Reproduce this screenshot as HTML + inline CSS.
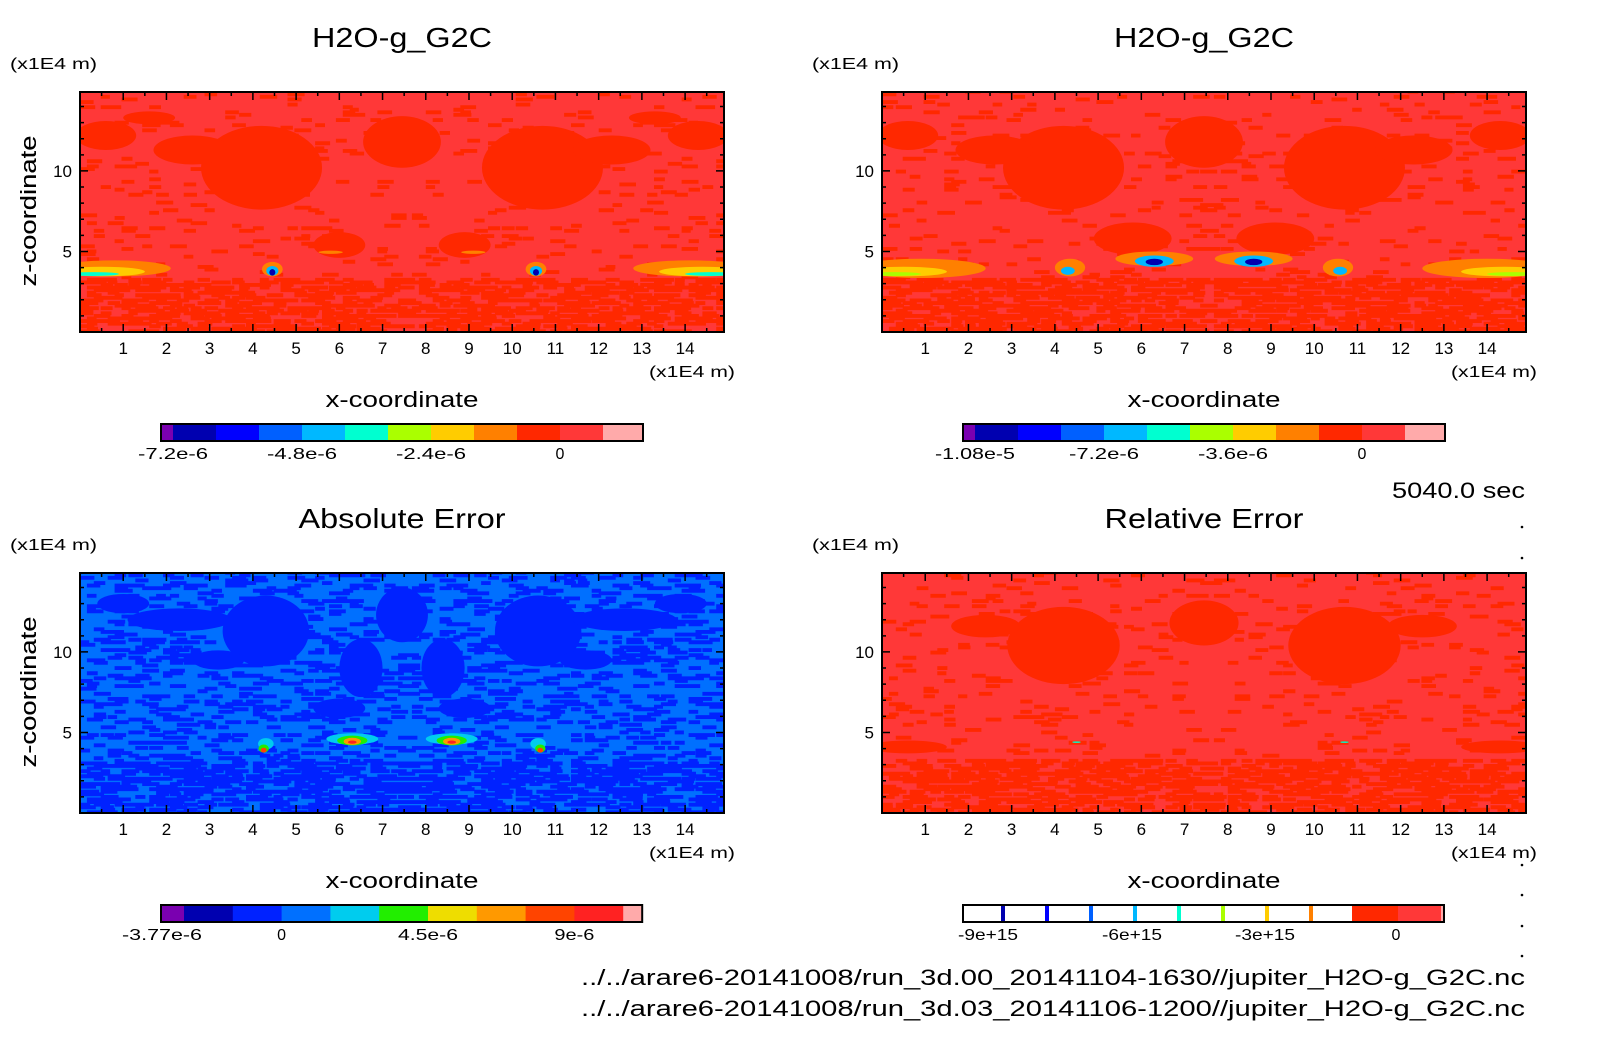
<!DOCTYPE html>
<html><head><meta charset="utf-8">
<style>
html,body{margin:0;padding:0;background:#fff;}
svg{display:block;font-family:"Liberation Sans",sans-serif;}
</style></head>
<body>
<svg id="fig" width="1604" height="1054" viewBox="0 0 1604 1054" xmlns="http://www.w3.org/2000/svg">
<rect width="1604" height="1054" fill="#fff"/>
<text x="1525" y="498" text-anchor="end" font-size="22" textLength="133" lengthAdjust="spacingAndGlyphs">5040.0 sec</text>
<text x="1525" y="985" text-anchor="end" font-size="22" textLength="944" lengthAdjust="spacingAndGlyphs">../../arare6-20141008/run_3d.00_20141104-1630//jupiter_H2O-g_G2C.nc</text>
<text x="1525" y="1016" text-anchor="end" font-size="22" textLength="944" lengthAdjust="spacingAndGlyphs">../../arare6-20141008/run_3d.03_20141106-1200//jupiter_H2O-g_G2C.nc</text>
<g fill="#000">
<circle cx="1522" cy="527" r="1.3"/><circle cx="1522" cy="558" r="1.3"/><circle cx="1522" cy="865" r="1.3"/><circle cx="1522" cy="895" r="1.3"/><circle cx="1522" cy="926" r="1.3"/><circle cx="1522" cy="956" r="1.3"/>
</g>
</svg>
<script>
// ---- data ----
const xTicks = [1,2,3,4,5,6,7,8,9,10,11,12,13,14];
const zTicks = [5,10];
const domainMax = 14.9;
const palTop = ["#7a00b0","#0000b0","#0000ff","#0060ff","#00b8ff","#00ffd0","#aaff00","#ffcc00","#ff8000","#ff2800","#ff3838","#ffaaaa"];
const palAbs = ["#7a00b0","#0000b0","#0022ff","#0070ff","#00ccee","#22ee00","#eedd00","#ff9900","#ff4400","#ff2222","#ffaaaa"];
const titles = ["H2O-g_G2C","H2O-g_G2C","Absolute Error","Relative Error"];
const titleW = [180,180,207,199];
const cbLabelsTL = ["-7.2e-6","-4.8e-6","-2.4e-6","0"];
const cbLabelsTR = ["-1.08e-5","-7.2e-6","-3.6e-6","0"];
const cbLabelsBL = ["-3.77e-6","0","4.5e-6","9e-6"];
const cbLabelsBR = ["-9e+15","-6e+15","-3e+15","0"];
const baseLevel = [10,10,3,10];
const darkLevel = [9,9,2,9];
// blobs: x, z, rx, rz, level
const blobsTL = [[4.2,10.2,1.4,2.6,9],[10.7,10.2,1.4,2.6,9],[2.6,11.3,0.9,0.9,9],[12.3,11.3,0.9,0.9,9],[7.45,11.8,0.9,1.6,9],[0.6,12.2,0.7,0.9,9],[14.3,12.2,0.7,0.9,9],[6.0,5.4,0.6,0.8,9],[8.9,5.4,0.6,0.8,9],[1.6,13.3,0.6,0.4,9],[13.3,13.3,0.6,0.4,9],
 [0.8,3.95,1.3,0.5,8],[14.1,3.95,1.3,0.5,8],[0.5,3.75,1.0,0.3,7],[14.4,3.75,1.0,0.3,7],[0.3,3.6,0.6,0.12,5],[14.6,3.6,0.6,0.12,5],
 [4.45,3.9,0.24,0.45,8],[10.55,3.9,0.24,0.45,8],[4.45,3.8,0.14,0.3,4],[10.55,3.8,0.14,0.3,4],[4.45,3.7,0.07,0.2,1],[10.55,3.7,0.07,0.2,1],
 [5.8,4.95,0.28,0.1,8],[9.1,4.95,0.28,0.1,8]];
const blobsTR = [[4.2,10.2,1.4,2.6,9],[10.7,10.2,1.4,2.6,9],[2.6,11.3,0.9,0.9,9],[12.3,11.3,0.9,0.9,9],[7.45,11.8,0.9,1.6,9],[0.6,12.2,0.7,0.9,9],[14.3,12.2,0.7,0.9,9],[5.8,5.8,0.9,1.0,9],[9.1,5.8,0.9,1.0,9],
 [0.9,3.95,1.5,0.6,8],[14.0,3.95,1.5,0.6,8],[0.5,3.75,1.0,0.3,7],[14.4,3.75,1.0,0.3,7],[0.3,3.6,0.6,0.12,6],[14.6,3.6,0.6,0.12,6],
 [4.35,4.0,0.35,0.55,8],[10.55,4.0,0.35,0.55,8],[4.3,3.8,0.16,0.25,4],[10.6,3.8,0.16,0.25,4],
 [6.3,4.55,0.9,0.45,8],[8.6,4.55,0.9,0.45,8],[6.3,4.4,0.45,0.35,4],[8.6,4.4,0.45,0.35,4],[6.3,4.35,0.2,0.2,1],[8.6,4.35,0.2,0.2,1]];
const blobsBL = [[4.3,11.3,1.0,2.2,2],[10.6,11.3,1.0,2.2,2],[7.45,12.3,0.6,1.7,2],[6.5,9.0,0.5,1.8,2],[8.4,9.0,0.5,1.8,2],[2.3,12.0,1.2,0.7,2],[12.6,12.0,1.2,0.7,2],[1.0,13.0,0.6,0.6,2],[13.9,13.0,0.6,0.6,2],[6.0,6.5,0.6,0.6,2],[8.9,6.5,0.6,0.6,2],[3.2,9.5,0.6,0.6,2],[11.7,9.5,0.6,0.6,2],
 [6.3,4.6,0.6,0.35,4],[8.6,4.6,0.6,0.35,4],[6.3,4.5,0.35,0.3,5],[8.6,4.5,0.35,0.3,5],[6.3,4.45,0.2,0.22,7],[8.6,4.45,0.2,0.22,7],[6.3,4.4,0.1,0.1,9],[8.6,4.4,0.1,0.1,9],
 [4.3,4.3,0.18,0.35,4],[10.6,4.3,0.18,0.35,4],[4.25,4.0,0.12,0.25,5],[10.65,4.0,0.12,0.25,5],[4.25,3.9,0.07,0.15,8],[10.65,3.9,0.07,0.15,8]];
const blobsBR = [[4.2,10.4,1.3,2.4,9],[10.7,10.4,1.3,2.4,9],[2.4,11.6,0.8,0.7,9],[12.5,11.6,0.8,0.7,9],[7.45,11.8,0.8,1.4,9],[0.6,4.1,0.9,0.4,9],[14.3,4.1,0.9,0.4,9],[4.5,4.4,0.1,0.05,5],[10.7,4.4,0.1,0.05,5]];
const allBlobs = [blobsTL,blobsTR,blobsBL,blobsBR];
const pals = [palTop,palTop,palAbs,palTop];

// ---- layout ----
const NS="http://www.w3.org/2000/svg";
const svg=document.getElementById('fig');
function el(t,a,p){const e=document.createElementNS(NS,t);for(const k in a)e.setAttribute(k,a[k]);(p||svg).appendChild(e);return e;}
const offX=[0,802,0,802], offY=[0,0,481,481];
function hash(i,j,s){let h=Math.sin(i*127.1+j*311.7+s*74.7)*43758.5453;return h-Math.floor(h);}

for(let p=0;p<4;p++){
  const ox=offX[p], oy=offY[p];
  const x0=80+ox,x1=724+ox,y0=92+oy,y1=332+oy;
  const xs=v=>x0+v/domainMax*(x1-x0), zs=v=>y1-v/domainMax*(y1-y0);
  const g=el('g',{});
  
  
  const cid='clip'+p;
  const cp=el('clipPath',{id:cid},g); el('rect',{x:x0,y:y0,width:x1-x0,height:y1-y0},cp);
  const field=el('g',{'clip-path':'url(#'+cid+')'},g);
  
  
  const pal=pals[p];
  el('rect',{x:x0,y:y0,width:x1-x0,height:y1-y0,fill:pal[baseLevel[p]]},field);
  // texture
  let d='';const cw=0.16;
  const nI=Math.ceil(domainMax/cw);
  for(let i=0;i<nI;i++)for(let j=0;j*cw<domainMax;j++){
    const z=j*cw;const dens=z<3.3?0.45:(p==2?0.18:0.05);
    const hh=hash(Math.min(i,nI-1-i),j,p);
    if(hh<dens){const w=(xs(cw)-x0)*(1.3+hash(i,j,p+9)*1.2), h=(zs(0)-zs(cw))*1.5;
      d+='M'+xs(i*cw).toFixed(1)+' '+zs(z+cw).toFixed(1)+'h'+w.toFixed(1)+'v'+h.toFixed(1)+'h'+(-w).toFixed(1)+'z';}
  }
  const tex=el('path',{d:d,fill:pal[darkLevel[p]]},field);
  
  
  allBlobs[p].forEach(b=>{
    const e=el('ellipse',{cx:xs(b[0]),cy:zs(b[1]),rx:xs(b[2])-x0,ry:zs(0)-zs(b[3]),fill:pal[b[4]]},field);
    
    
  });
  const fr=el('rect',{x:x0,y:y0,width:x1-x0,height:y1-y0,fill:'none',stroke:'#000','stroke-width':2},g);
  
  
  let td='';
  for(let v=0.5;v<domainMax;v+=0.5){const X=xs(v);const L=(v%1==0)?8:4;td+=`M${X} ${y1}v${-L}M${X} ${y0}v${L}`;}
  for(let v=1;v<domainMax;v+=1){const Y=zs(v);const L=(v%5==0)?8:4;td+=`M${x0} ${Y}h${L}M${x1} ${Y}h${-L}`;}
  el('path',{d:td,stroke:'#000','stroke-width':1.5},g);
  xTicks.forEach(v=>{const t=el('text',{x:xs(v),y:y1+22,'text-anchor':'middle','font-size':17},g);t.textContent=v;
    });
  zTicks.forEach(v=>{const t=el('text',{x:x0-8,y:zs(v)+6,'text-anchor':'end','font-size':17},g);t.textContent=v;
    });
  let t;
  t=el('text',{x:(x0+x1)/2,y:47+oy,'text-anchor':'middle','font-size':28,textLength:titleW[p],lengthAdjust:'spacingAndGlyphs'},g);t.textContent=titles[p];
  
  t=el('text',{x:10+ox,y:69+oy,'font-size':16,textLength:87,lengthAdjust:'spacingAndGlyphs'},g);t.textContent='(x1E4 m)';
  
  t=el('text',{x:649+ox,y:377+oy,'font-size':16,textLength:86,lengthAdjust:'spacingAndGlyphs'},g);t.textContent='(x1E4 m)';
  
  t=el('text',{x:(x0+x1)/2,y:407+oy,'text-anchor':'middle','font-size':22,textLength:153,lengthAdjust:'spacingAndGlyphs'},g);t.textContent='x-coordinate';
  
  t=el('text',{x:0,y:0,'text-anchor':'middle','font-size':22,textLength:151,lengthAdjust:'spacingAndGlyphs',transform:`translate(36,${211+oy}) rotate(-90)`},g);t.textContent='z-coordinate';
  
  const cb=el('g',{},g);
  
  
  const cx0=161+ox, cy=424+oy, ch=17;
  let labels, bounds;
  if(p==3){
    const bx0=963,bx1=1444;
    el('rect',{x:bx0,y:cy,width:bx1-bx0,height:ch,fill:'#fff'},cb);
    const lines=[1003,1047,1091,1135,1179,1223,1267,1311];
    lines.forEach((X,i)=>el('rect',{x:X-2,y:cy,width:4,height:ch,fill:palTop[i+1]},cb));
    el('rect',{x:1352,y:cy,width:46,height:ch,fill:palTop[9]},cb);
    el('rect',{x:1398,y:cy,width:43,height:ch,fill:palTop[10]},cb);
    el('rect',{x:1441,y:cy,width:3,height:ch,fill:palTop[11]},cb);
    el('rect',{x:bx0,y:cy,width:bx1-bx0,height:ch,fill:'none',stroke:'#000','stroke-width':2},cb);
    labels=cbLabelsBR; bounds=[988,1132,1265,1396];
  } else {
    const n=pal.length;
    const first=p==2?23:12, seg=p==2?48.8:43, lastW=p==2?19:40;
    let X=cx0;
    for(let i=0;i<n;i++){const w=i==0?first:(i==n-1?lastW:seg);
      const r=el('rect',{x:X,y:cy,width:w+0.5,height:ch,fill:pal[i]},cb);
      X+=w;}
    el('rect',{x:cx0,y:cy,width:X-cx0,height:ch,fill:'none',stroke:'#000','stroke-width':2},cb);
    labels=[cbLabelsTL,cbLabelsTR,cbLabelsBL][p];
    bounds=p==2?[162,cx0+first+2*seg,cx0+first+5*seg,cx0+first+8*seg]:[cx0+first,cx0+first+3*seg,cx0+first+6*seg,cx0+first+9*seg];
  }
  labels.forEach((s,i)=>{const tt=el('text',{x:bounds[i],y:cy+35,'text-anchor':'middle','font-size':16},cb);tt.textContent=s;
    if(s.length>1){tt.setAttribute('textLength',s.length*10);tt.setAttribute('lengthAdjust','spacingAndGlyphs');}
    });
}
</script>
</body></html>
